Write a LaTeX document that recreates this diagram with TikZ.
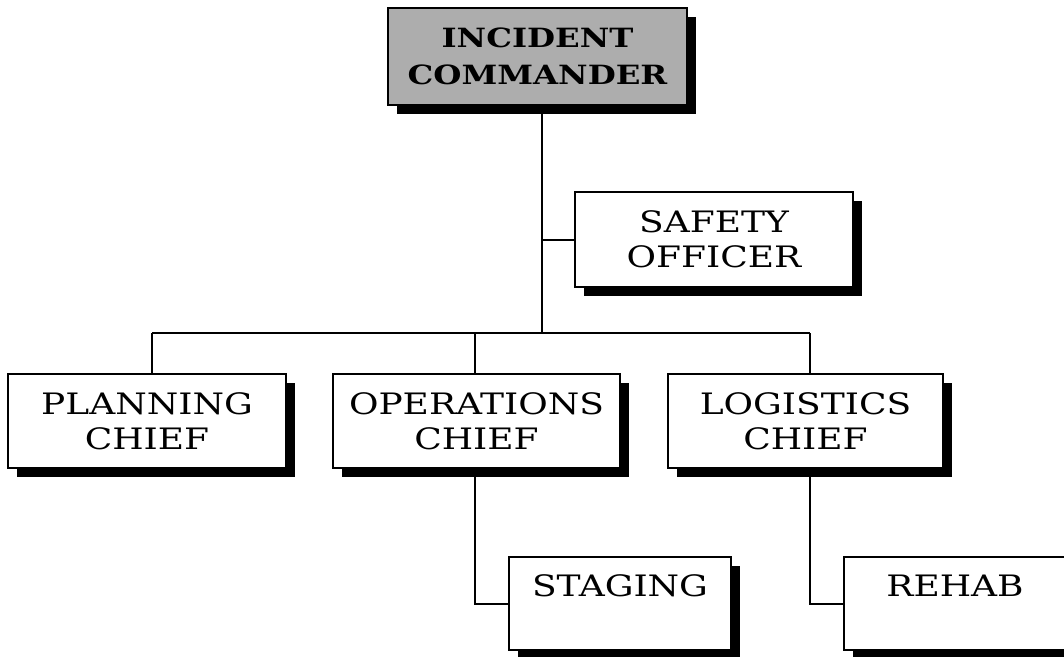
\documentclass[tikz,border=0pt]{standalone}
\usepackage{fontspec}
\setmainfont{DejaVu Serif}[FakeStretch=1.22]
\usetikzlibrary{shadows}
\begin{document}
\begin{tikzpicture}[x=1pt,y=-1pt,line width=2pt,
  box/.style={draw=black,fill=white,rectangle,inner sep=0pt,align=center,
    font=\fontsize{29.5}{35}\selectfont,
    drop shadow={shadow xshift=9pt,shadow yshift=-9pt,fill=black,opacity=1}},
  headbox/.style={box,fill=black!32,font=\bfseries\fontsize{26.5}{37}\selectfont},
  link/.style={draw=black,line width=2pt}]
\fill[white] (0,0) rectangle (1064,656);
\useasboundingbox (0,0) rectangle (1064,656);
\clip (0,0) rectangle (1064,656);

% boxes
\node[headbox,minimum width=299pt,minimum height=97pt] (ic) at (537.5,56.5) {INCIDENT\\COMMANDER};
\node[box,minimum width=278pt,minimum height=95pt] (so) at (714,239.5) {SAFETY\\OFFICER};
\node[box,minimum width=278pt,minimum height=94pt] (pl) at (147,421) {PLANNING\\CHIEF};
\node[box,minimum width=287pt,minimum height=94pt] (op) at (476.5,421) {OPERATIONS\\CHIEF};
\node[box,minimum width=275pt,minimum height=94pt] (lg) at (805.5,421) {LOGISTICS\\CHIEF};
\node[box,minimum width=222pt,minimum height=93pt] (st) at (620,603.5) {STAGING\\\mbox{}};
\node[box,minimum width=222pt,minimum height=93pt] (rh) at (955,603.5) {REHAB\\\mbox{}};

% bus points
\coordinate (trunk) at (542,333);
\coordinate (b1) at (152,333);
\coordinate (b2) at (475,333);
\coordinate (b3) at (810,333);

% connectors
\draw[link] (ic.south -| trunk) -- (trunk);
\draw[link] (so.west -| trunk) -- (so.west);
\draw[link] (b1) -- (b3);
\draw[link] (b1) -- (pl.north -| b1);
\draw[link] (b2) -- (op.north -| b2);
\draw[link] (b3) -- (lg.north -| b3);
\draw[link] (op.south -| b2) |- (st.west);
\draw[link] (lg.south -| b3) |- (rh.west);
\end{tikzpicture}
\end{document}
